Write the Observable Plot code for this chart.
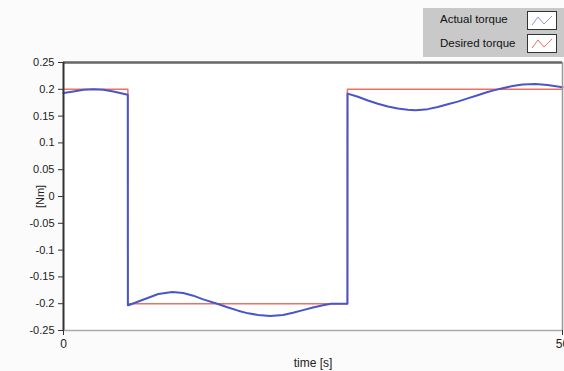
<!DOCTYPE html>
<html><head><meta charset="utf-8">
<script src="https://cdn.jsdelivr.net/npm/d3@7"></script>
<script src="https://cdn.jsdelivr.net/npm/@observablehq/plot@0.6"></script>
<style>
body{margin:0;background:#fff}
#wrap{position:relative;width:564px;height:371px;background:#fbfbfb;font-family:"Liberation Sans",Arial,sans-serif;overflow:hidden}
#legend{position:absolute;left:423px;top:8px;width:141px;height:49px;background:#c9c9c9}
.row{position:absolute;left:17px;font-size:11.5px;color:#111}
.sw{position:absolute;left:104px;width:30px;height:19px;background:#fff;border:1px solid #333;box-sizing:border-box}
</style></head><body>
<div id="wrap">
  <div id="chart"></div>
  <div id="legend">
    <div class="row" style="top:5px">Actual torque</div>
    <div class="row" style="top:29px">Desired torque</div>
    <div class="sw" style="top:3px"><svg width="28" height="17"><polyline points="4,13 10,5 16,12 24,4" fill="none" stroke="#8f95e0" stroke-width="1"/></svg></div>
    <div class="sw" style="top:26px"><svg width="28" height="17"><polyline points="4,13 10,5 16,12 24,4" fill="none" stroke="#f07060" stroke-width="1"/></svg></div>
  </div>
</div>
<script>
const actualT = [0,1,2,3,4,5,6.44,6.45,6.5,7.5,8.5,9.5,10.9,12,13,14,15.4,16.5,17.5,18.5,19.5,20.7,22,23,24,25,26,26.8,28.45,28.46,29.5,30.5,31.5,32.5,33.5,34.5,35.3,36.5,37.5,38.5,39.5,40.5,41.5,42.5,43.1,44,45,46,47.3,48.5,50];
const actualV = [0.193,0.196,0.199,0.2,0.199,0.196,0.19,-0.203,-0.203,-0.196,-0.189,-0.182,-0.178,-0.18,-0.185,-0.192,-0.2,-0.207,-0.213,-0.218,-0.221,-0.223,-0.221,-0.217,-0.212,-0.207,-0.203,-0.2,-0.2,0.192,0.186,0.179,0.173,0.168,0.164,0.162,0.161,0.163,0.167,0.172,0.177,0.183,0.189,0.195,0.198,0.202,0.206,0.209,0.21,0.208,0.204];
const desiredT = [0,6.45,6.45,28.45,28.45,50];
const desiredV = [0.2,0.2,-0.2,-0.2,0.2,0.2];
const yTicks = [-0.25,-0.2,-0.15,-0.1,-0.05,0,0.05,0.1,0.15,0.2,0.25];
const xTicks = [0,50];

const actual = actualT.map((t,i)=>({t, v: actualV[i]}));
const desired = desiredT.map((t,i)=>({t, v: desiredV[i]}));

const chart = Plot.plot({
  width: 564, height: 371,
  marginLeft: 63, marginRight: 2, marginTop: 62, marginBottom: 41,
  style: {background: "transparent", fontFamily: "Liberation Sans, Arial, sans-serif", fontSize: "11px", color: "#222"},
  x: {domain: [0, 50]},
  y: {domain: [-0.25, 0.25]},
  marks: [
    Plot.frame({fill: "white", stroke: "none"}),
    Plot.line(desired, {x: "t", y: "v", stroke: "#f07060", strokeWidth: 1.5}),
    Plot.line(actual, {x: "t", y: "v", stroke: "#4a55c8", strokeWidth: 2}),
    Plot.ruleY([0.25], {stroke: "#666", strokeWidth: 2.5}),
    Plot.ruleY([-0.25], {stroke: "#aaa", strokeWidth: 1.5}),
    Plot.ruleX([0], {stroke: "#333", strokeWidth: 2}),
    Plot.ruleX([50], {stroke: "#999", strokeWidth: 1.5}),
    Plot.axisY({ticks: yTicks, tickSize: 5, tickFormat: d => String(+d.toFixed(2)), label: "[Nm]", labelAnchor: "center", labelArrow: "none", labelOffset: 27, stroke: "#333"}),
    Plot.axisX({ticks: xTicks, tickSize: 5, tickFormat: d => String(d), label: "time [s]", labelAnchor: "center", labelArrow: "none", labelOffset: 36, fontSize: 12, stroke: "#333"})
  ]
});
document.getElementById("chart").appendChild(chart);
</script>
</body></html>
